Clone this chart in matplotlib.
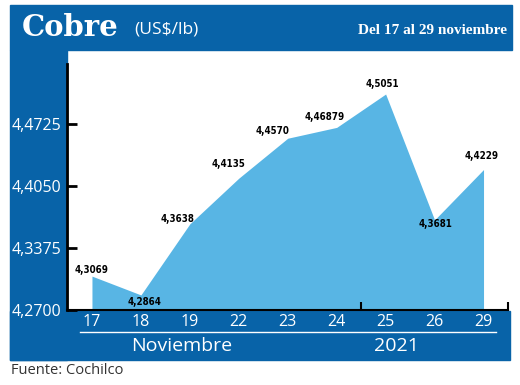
import matplotlib.pyplot as plt
from matplotlib.patches import Rectangle

days = ['17', '18', '19', '22', '23', '24', '25', '26', '29']
precio = [4.3069, 4.2864, 4.3638, 4.4135, 4.4570, 4.46879, 4.5051, 4.3681, 4.4229]
etiquetas = ['4,3069', '4,2864', '4,3638', '4,4135', '4,4570', '4,46879', '4,5051', '4,3681', '4,4229']
yticks = [4.2700, 4.3375, 4.4050, 4.4725]
ytick_labels = ['4,2700', '4,3375', '4,4050', '4,4725']

azul = '#0863a8'
celeste = '#58b5e4'
W, H = 520, 385

fig = plt.figure(figsize=(5.2, 3.85), dpi=100)


def px(x, y):
    # pixel coords (from top-left) to figure fraction
    return x / W, 1 - y / H


def band(x0, y0, x1, y1):
    fx, fy = px(x0, y1)
    fig.patches.append(Rectangle((fx, fy), (x1 - x0) / W, (y1 - y0) / H,
                                 transform=fig.transFigure, color=azul, zorder=-1))


band(10, 5, 512, 50)    # header
band(10, 50, 67, 360)   # left
band(10, 311, 510, 360)  # bottom

l, b = px(67, 310)
r, t = px(508, 64)
ax = fig.add_axes([l, b, r - l, t - b])
ax.patch.set_alpha(0)

x = list(range(len(days)))
ax.fill_between(x, precio, yticks[0], color=celeste, lw=0, zorder=1)
ax.set_xlim(-0.51, 8.5)
ax.set_ylim(4.27, 4.5378)

ax.set_yticks(yticks)
ax.set_yticklabels(ytick_labels, fontsize=11.5, color='white', family='Open Sans')
ax.tick_params(axis='y', direction='in', length=7, width=2, color='black', pad=4)
ax.set_xticks(x)
ax.set_xticklabels(days, fontsize=11.5, color='white', family='Open Sans')
ax.tick_params(axis='x', length=0, pad=3)
ax.set_xticks([5.5, 8.5], minor=True)
ax.tick_params(axis='x', which='minor', direction='in', length=6, width=1.5, color='black')

for s in ['top', 'right']:
    ax.spines[s].set_visible(False)
ax.spines['left'].set_linewidth(2)
ax.spines['bottom'].set_linewidth(1.5)

# data labels: (dx px, dy px) offsets from the point
offs = [(0, 6), (4, -7), (-12, 5), (-10, 14), (-15, 7), (-12, 10), (-3, 10), (1, -4), (-2, 14)]
for i, (v, lab) in enumerate(zip(precio, etiquetas)):
    dx, dy = offs[i]
    ax.annotate(lab, (i, v), xytext=(dx * 0.72, dy * 0.72), textcoords='offset points',
                ha='center', va='center', fontsize=7, fontweight='bold',
                family='DejaVu Sans', fontstretch='condensed', color='black', zorder=3)

# header
fig.text(*px(22, 28), 'Cobre', fontsize=21, fontweight='bold', family='DejaVu Serif',
         color='white', va='center', ha='left')
fig.text(*px(134, 30), '(US$/lb)', fontsize=12.5, family='Open Sans',
         color='white', va='center', ha='left')
fig.text(*px(507, 31), 'Del 17 al 29 noviembre', fontsize=11, fontweight='bold',
         family='Liberation Serif', color='white', va='center', ha='right')

# bottom band
fig.lines.append(plt.Line2D([80 / W, 496 / W], [1 - 332 / H] * 2, transform=fig.transFigure,
                            color='white', lw=1))
fig.text(*px(182, 346), 'Noviembre', fontsize=14, family='Open Sans', color='white',
         va='center', ha='center')
fig.text(*px(396, 346), '2021', fontsize=14, family='Open Sans', color='white',
         va='center', ha='center')
fig.text(*px(11, 371), 'Fuente: Cochilco', fontsize=10.5, family='Open Sans', color='#333333',
         va='center', ha='left')

fig.savefig('out.png', dpi=100)
